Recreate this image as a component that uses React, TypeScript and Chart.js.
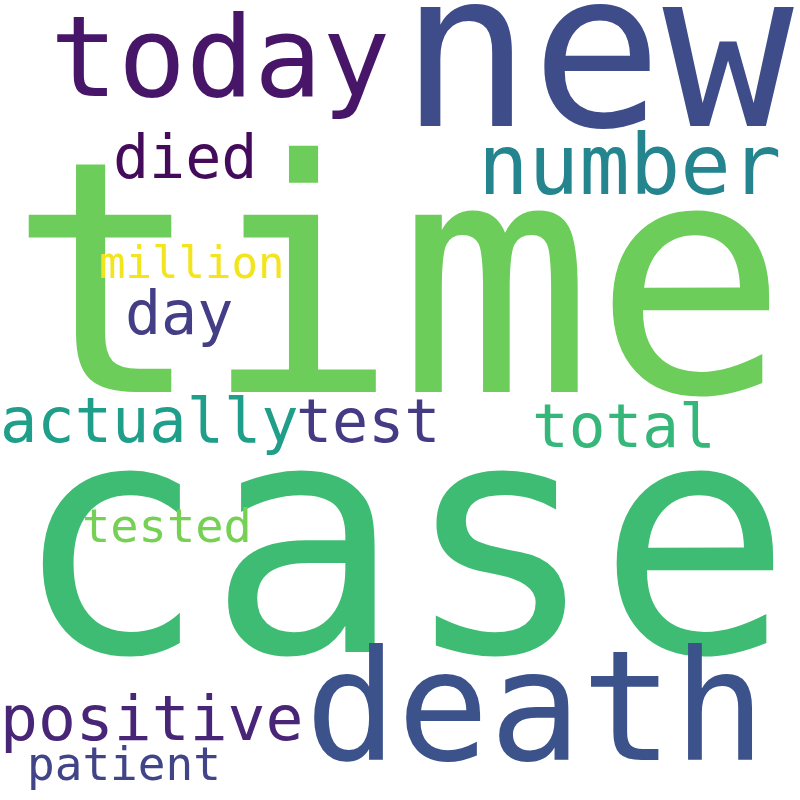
import React, { useEffect, useRef } from "react";
import { Chart, registerables } from "chart.js";
Chart.register(...registerables);

const words = ["time", "case", "new", "today", "number", "died", "million", "day", "actually", "test", "total", "tested", "death", "positive", "patient"];
const xs = [8, 12, 400, 50, 478, 113, 99, 125, 0, 296, 532, 82, 305, 0, 27];
const ys = [392, 652, 126, 96, 194, 178, 278, 334, 442, 442, 447, 542, 760, 740, 780];
const sizes = [324, 324, 218, 113, 84, 60, 44, 60, 62, 60, 61, 47, 153, 63, 46];
const colors = ["#6ccd5a", "#3fbc73", "#3e4c8a", "#481668", "#25858e", "#450b5b", "#f2e51d", "#433e85", "#1f9e89", "#443b84", "#35b779", "#75d054", "#3b528b", "#482576", "#414487"];

const wordPlugin = {
  id: "words",
  afterDatasetsDraw(chart: any) {
    const ctx = chart.ctx;
    const xS = chart.scales.x, yS = chart.scales.y;
    ctx.save();
    ctx.textBaseline = "alphabetic";
    ctx.textAlign = "left";
    words.forEach((w, i) => {
      const px = xS.getPixelForValue(xs[i]);
      const py = yS.getPixelForValue(ys[i]);
      const s = Math.abs(yS.getPixelForValue(sizes[i]) - yS.getPixelForValue(0));
      ctx.font = `${s}px "DejaVu Sans Mono"`;
      ctx.fillStyle = colors[i];
      ctx.fillText(w, px, py);
    });
    ctx.restore();
  },
};

export default function App() {
  const ref = useRef<HTMLCanvasElement>(null);
  useEffect(() => {
    const chart = new Chart(ref.current!, {
      type: "scatter",
      data: { datasets: [{ data: words.map((_, i) => ({ x: xs[i], y: ys[i] })), pointRadius: 0 }] },
      options: {
        animation: false,
        responsive: false,
        layout: { padding: 0 },
        plugins: { legend: { display: false }, tooltip: { enabled: false } },
        scales: {
          x: { type: "linear", min: 0, max: 800, display: false },
          y: { type: "linear", min: 0, max: 800, reverse: true, display: false },
        },
      },
      plugins: [wordPlugin],
    });
    return () => chart.destroy();
  }, []);
  return (
    <div style={{ position: "fixed", left: 0, top: 0, width: 800, height: 800, background: "#fff" }}>
      <canvas ref={ref} width={800} height={800} style={{ width: 800, height: 800 }} />
    </div>
  );
}
